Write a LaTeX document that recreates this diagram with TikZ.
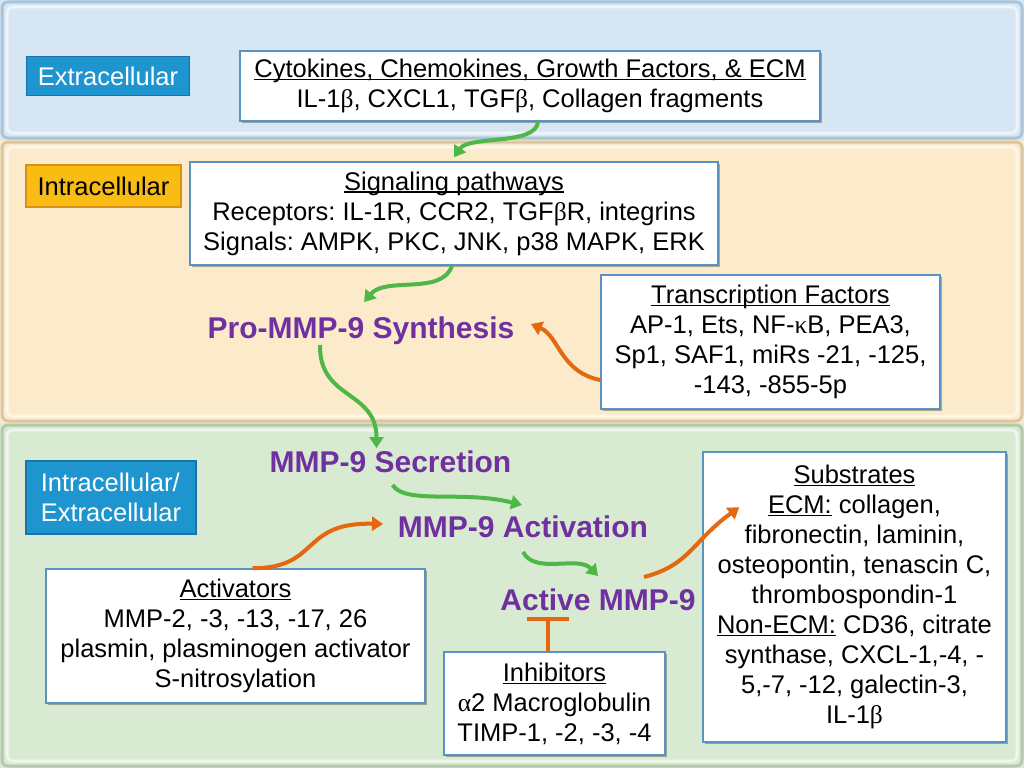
\documentclass[tikz,border=0pt]{standalone}
\usepackage{fontspec}
\setmainfont{Liberation Sans}
\newfontfamily\grk{Liberation Serif}
\usetikzlibrary{arrows.meta,shadows,calc}
\newcommand\gB{{\grk β}}
\newcommand\gK{{\grk κ}}
\newcommand\gA{{\grk α}}
\newcommand\ulx[1]{\setbox0\hbox{#1}\rlap{\rule[-2.8pt]{\wd0}{1.4pt}}\box0\relax}
\newcommand\bodyfs{\fontsize{25.5}{30}\selectfont\frenchspacing}
\newcommand\purpfs{\fontsize{30}{34}\selectfont\bfseries}
\definecolor{bandB}{HTML}{D6E6F3}
\definecolor{bandY}{HTML}{FCEBCB}
\definecolor{bandG}{HTML}{D8EAD1}
\definecolor{edgeB}{HTML}{A9C3D8}
\definecolor{edgeY}{HTML}{D9C7A3}
\definecolor{edgeG}{HTML}{B3C9AB}
\definecolor{labB}{HTML}{1F95D0}
\definecolor{labBd}{HTML}{1873A6}
\definecolor{labY}{HTML}{F9BC12}
\definecolor{labYd}{HTML}{D8901A}
\definecolor{boxline}{HTML}{5A93C2}
\definecolor{purp}{HTML}{7030A0}
\definecolor{arrG}{HTML}{4FB748}
\definecolor{arrO}{HTML}{E4680F}
\begin{document}
\begin{tikzpicture}[x=1pt,y=-1pt,
  box/.style={draw=boxline, line width=1.5pt, fill=white, align=center, inner sep=0pt, font=\bodyfs,
    drop shadow={shadow xshift=2pt,shadow yshift=-2pt,fill=black,opacity=.3}},
  lbl/.style={line width=1.5pt, align=center, inner sep=0pt, font=\bodyfs},
  purpl/.style={text=purp, font=\purpfs, inner sep=0pt, anchor=base},
  garr/.style={draw=arrG, line width=4pt, -{Triangle[length=11pt,width=14pt]}},
  oarr/.style={draw=arrO, line width=4pt, -{Triangle[length=11pt,width=14pt]}},
  tline/.style={draw=arrO, line width=4pt}]
\useasboundingbox (0,0) rectangle (1024,768);
% bands
\fill[bandB] (0,0) rectangle (1024,140);
\fill[bandY] (0,140) rectangle (1024,423);
\fill[bandG] (0,423) rectangle (1024,768);
\draw[edgeB, line width=3pt, rounded corners=6pt] (2,2) rectangle (1022,138);
\draw[edgeY, line width=3pt, rounded corners=6pt] (2,142) rectangle (1022,421);
\draw[edgeG, line width=3pt, rounded corners=6pt] (2,425) rectangle (1022,766);
\draw[white, opacity=.6, line width=3pt, rounded corners=6pt] (7,7) rectangle (1017,133);
\draw[white, opacity=.6, line width=3pt, rounded corners=6pt] (7,147) rectangle (1017,416);
\draw[white, opacity=.6, line width=3pt, rounded corners=6pt] (7,430) rectangle (1017,761);
% labels
\node[lbl, fill=labB, draw=labBd, text=white, minimum width=163pt, minimum height=39pt] (ext) at (108,76) {Extracellular};
\node[lbl, fill=labY, draw=labYd, text=black, minimum width=155pt, minimum height=42pt] (intra) at (103.5,186) {Intracellular};
\node[lbl, fill=labB, draw=labBd, text=white, minimum width=170pt, minimum height=73pt, align=left] (intext) at (111,497.5) {Intracellular/\\Extracellular};
% boxes
\node[box, minimum width=580pt, minimum height=70pt] (cyt) at (530,86)
  {\ulx{Cytokines, Chemokines, Growth Factors, \& ECM}\\IL-1\gB, CXCL1, TGF\gB, Collagen fragments};
\node[box, minimum width=528pt, minimum height=103pt] (sig) at (454,213.5)
  {\ulx{Signaling pathways}\\Receptors: IL-1R, CCR2, TGF\gB R, integrins\\Signals: AMPK, PKC, JNK, p38 MAPK, ERK};
\node[box, minimum width=339pt, minimum height=134pt] (tf) at (770.5,342)
  {\ulx{Transcription Factors}\\AP-1, Ets, NF-\gK B, PEA3,\\Sp1, SAF1, miRs -21, -125,\\-143, -855-5p};
\node[box, minimum width=303pt, minimum height=290pt] (subs) at (854.5,597)
  {\ulx{Substrates}\\\ulx{ECM:} collagen,\\fibronectin, laminin,\\osteopontin, tenascin C,\\thrombospondin-1\\\ulx{Non-ECM:} CD36, citrate\\synthase, CXCL-1,-4, -\\5,-7, -12, galectin-3,\\IL-1\gB};
\node[box, minimum width=379pt, minimum height=134pt] (act) at (235.5,636)
  {\ulx{Activators}\\MMP-2, -3, -13, -17, 26\\plasmin, plasminogen activator\\S-nitrosylation};
\node[box, minimum width=221pt, minimum height=103pt] (inh) at (554.5,703.5)
  {\ulx{Inhibitors}\\\gA2 Macroglobulin\\TIMP-1, -2, -3, -4};
% purple steps
\node[purpl] (pro) at (361,338) {Pro-MMP-9 Synthesis};
\node[purpl] (sec) at (390.5,472) {MMP-9 Secretion};
\node[purpl] (actv) at (523,537) {MMP-9 Activation};
\node[purpl] (active) at (598,610) {Active MMP-9};
% green arrows
\draw[garr] ([xshift=8pt]cyt.south) .. controls ($([xshift=8pt]cyt.south)+(-2,24)$) and ($([yshift=4pt]sig.north)+(15,-22)$) .. ([yshift=4pt]sig.north);
\draw[garr] ([xshift=-2pt]sig.south) .. controls ($([xshift=-2pt]sig.south)+(-10,30)$) and ($(pro.base)+(25,-62)$) .. ($(pro.base)+(3,-36)$);
\draw[garr] ($(pro.base)+(-41,7)$) .. controls ($(pro.base)+(-42,62)$) and ($(sec.base)+(-14,-82)$) .. ($(sec.base)+(-14,-24)$);
\draw[garr] ($(sec.base)+(2,13)$) .. controls ($(sec.base)+(15,33)$) and ($(actv.base)+(-60,-47)$) .. ($(actv.base)+(-1,-32)$);
\draw[garr] ($(actv.base)+(0,15)$) .. controls ($(actv.base)+(12,38)$) and ($(active.base)+(-20,-55)$) .. ($(active.base)+(0,-34)$);
% orange arrows
\draw[oarr] ([yshift=-38pt]tf.west) .. controls ($([yshift=-38pt]tf.west)+(-40,-8)$) and ($(pro.base)+(198,-2)$) .. ($(pro.base)+(170,-14)$);
\draw[oarr] ([xshift=17pt]act.north) .. controls ($([xshift=17pt]act.north)+(68,0)$) and ($(actv.base)+(-223,-15)$) .. ($(actv.base)+(-140,-13)$);
\draw[oarr] ($(active.base)+(46,-33)$) .. controls ($(active.base)+(92,-45)$) and ($(subs.north west)+(-10,90)$) .. ($(subs.north west)+(37,56)$);
% inhibition
\coordinate (tb) at ($(inh.north)+(-6.5,-32)$);
\draw[tline] ([xshift=-6.5pt]inh.north) -- (tb);
\draw[tline] ($(tb)+(-21,0)$) -- ($(tb)+(21,0)$);
\end{tikzpicture}
\end{document}
